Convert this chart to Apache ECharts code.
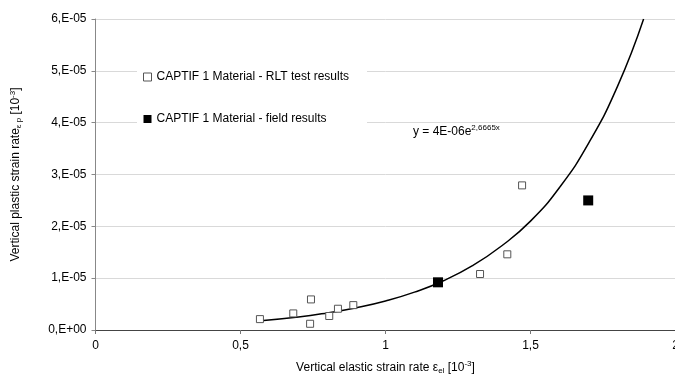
<!DOCTYPE html>
<html>
<head>
<meta charset="utf-8">
<script src="https://cdn.jsdelivr.net/npm/echarts@6/dist/echarts.min.js"></script>
<style>html,body{margin:0;padding:0;background:#fff}#c{width:675px;height:376px}</style>
</head>
<body>
<div id="c"></div>
<script>
// Data
var rltX = [0.567, 0.682, 0.743, 0.740, 0.806, 0.836, 0.889, 1.326, 1.420, 1.471];
var rltY = [2.1e-6, 3.2e-6, 5.9e-6, 1.2e-6, 2.7e-6, 4.1e-6, 4.8e-6, 10.8e-6, 14.6e-6, 27.9e-6];
var fieldX = [1.181, 1.699];
var fieldY = [9.2e-6, 25.0e-6];
// trendline
var trendX = [0.57, 0.7, 0.8, 0.9, 1.0, 1.1, 1.2, 1.3, 1.4, 1.5, 1.6, 1.7, 1.8, 1.89];
var trendY = [1.8e-6, 2.5e-6, 3.3e-6, 4.3e-6, 5.6e-6, 7.3e-6, 9.5e-6, 12.4e-6, 16.2e-6, 21.0e-6, 27.5e-6, 36e-6, 47e-6, 60e-6];
var xTickLabels = {0: '0', 0.5: '0,5', 1: '1', 1.5: '1,5', 2: '2'};
var yTickLabels = ['0,E+00', '1,E-05', '2,E-05', '3,E-05', '4,E-05', '5,E-05', '6,E-05'];
var seriesNames = ['CAPTIF 1 Material - RLT test results', 'CAPTIF 1 Material - field results'];

function zip(a, b) { return a.map(function (v, i) { return [v, b[i]]; }); }
var FONT = "'Liberation Sans', Arial, sans-serif";

var chart = echarts.init(document.getElementById('c'), null, {renderer: 'canvas'});
chart.setOption({
  animation: false,
  backgroundColor: '#fff',
  textStyle: {fontFamily: FONT},
  grid: {left: 95.5, right: -0.5, top: 19, bottom: 46, containLabel: false, outerBoundsMode: 'none'},
  legend: {
    orient: 'vertical', left: 137, top: 62,
    backgroundColor: '#fff', padding: [9, 18, 9, 6],
    itemGap: 30, itemWidth: 8, itemHeight: 8,
    textStyle: {fontFamily: FONT, fontSize: 12, color: '#000'},
    data: [
      {name: seriesNames[0], icon: 'rect', itemStyle: {color: '#fff', borderColor: '#555', borderWidth: 1}},
      {name: seriesNames[1], icon: 'rect', itemStyle: {color: '#000'}}
    ]
  },
  xAxis: [{
    type: 'value', min: 0, max: 2, interval: 0.5,
    name: 'Vertical elastic strain rate {s|ε}{sub|el} [10{sup|-3}]',
    nameLocation: 'middle', nameGap: 30,
    nameTextStyle: {fontFamily: FONT, fontSize: 12, color: '#000',
      rich: {s: {fontSize: 12, fontFamily: FONT}, sub: {fontSize: 8, padding: [6, 0, 0, 0], fontFamily: FONT}, sup: {fontSize: 8, padding: [0, 0, 7, 0], fontFamily: FONT}}},
    axisLine: {show: true, onZero: false, lineStyle: {color: '#777', width: 1}},
    axisTick: {show: true, length: 4, lineStyle: {color: '#777'}},
    axisLabel: {fontFamily: FONT, fontSize: 12, color: '#000', margin: 10,
      formatter: function (v) { return xTickLabels[v] !== undefined ? xTickLabels[v] : ''; }},
    splitLine: {show: false}
  }, {
    type: 'value', min: 0, max: 2, position: 'top',
    axisLine: {show: true, lineStyle: {color: '#444', width: 1}},
    axisTick: {show: false}, axisLabel: {show: false}, splitLine: {show: false}
  }],
  yAxis: {
    type: 'value', min: 0, max: 6e-5, interval: 1e-5,
    name: 'Vertical plastic strain rate{sub|ε p} [10{sup|-3}]',
    nameLocation: 'middle', nameGap: 72, nameRotate: 90,
    nameTextStyle: {fontFamily: FONT, fontSize: 12, color: '#000',
      rich: {sub: {fontSize: 8, padding: [6, 0, 0, 0], fontFamily: FONT}, sup: {fontSize: 8, padding: [0, 0, 7, 0], fontFamily: FONT}}},
    axisLine: {show: true, lineStyle: {color: '#888', width: 1}},
    axisTick: {show: true, length: 4, lineStyle: {color: '#888'}},
    axisLabel: {fontFamily: FONT, fontSize: 12, color: '#000', margin: 9,
      formatter: function (v) { var i = Math.round(v / 1e-5); return yTickLabels[i] || ''; }},
    splitLine: {show: true, lineStyle: {color: '#d9d9d9', width: 1}}
  },
  graphic: [{
    type: 'text', left: 413, top: 124, z: 10,
    style: {
      text: '{a|y = 4E-06e}{b|2,6665x}',
      fontFamily: FONT,
      rich: {
        a: {fontSize: 12, fontFamily: FONT, fill: '#000'},
        b: {fontSize: 8, fontFamily: FONT, fill: '#000', padding: [0, 0, 8, 0]}
      }
    }
  }],
  series: [{
    name: 'trend', type: 'line', data: zip(trendX, trendY),
    smooth: true, showSymbol: false, symbol: 'none',
    lineStyle: {color: '#000', width: 1.5}, z: 1, silent: true
  }, {
    name: seriesNames[0], type: 'scatter', data: zip(rltX, rltY),
    symbol: 'rect', symbolSize: 7,
    itemStyle: {color: '#fff', borderColor: '#555', borderWidth: 1, opacity: 1}, z: 3
  }, {
    name: seriesNames[1], type: 'scatter', data: zip(fieldX, fieldY),
    symbol: 'rect', symbolSize: 10,
    itemStyle: {color: '#000', opacity: 1}, z: 4
  }]
});
</script>
</body>
</html>
